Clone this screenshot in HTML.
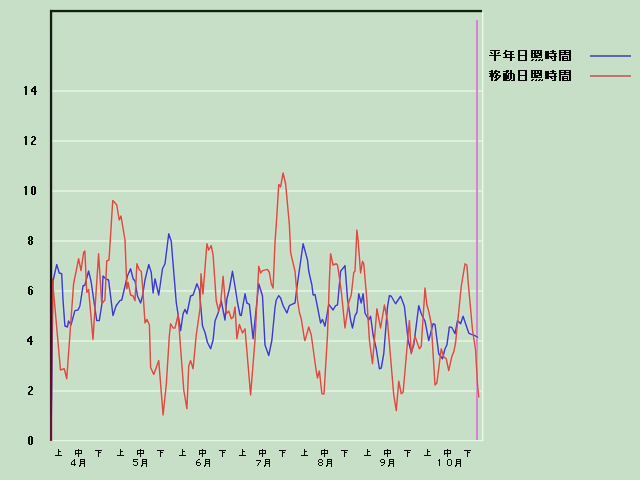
<!DOCTYPE html>
<html><head><meta charset="utf-8"><style>
html,body{margin:0;padding:0;width:640px;height:480px;overflow:hidden;background:#c8dfc7;font-family:"Liberation Sans",sans-serif}
</style></head><body>
<svg width="640" height="480" viewBox="0 0 640 480" style="position:absolute;left:0;top:0">
<rect x="0" y="0" width="640" height="480" fill="#c8dfc7"/>
<g fill="#e2f3e0">
<rect x="52" y="90.15" width="430" height="1.7"/>
<rect x="52" y="140.15" width="430" height="1.7"/>
<rect x="52" y="190.15" width="430" height="1.7"/>
<rect x="52" y="240.15" width="430" height="1.7"/>
<rect x="52" y="290.15" width="430" height="1.7"/>
<rect x="52" y="340.15" width="430" height="1.7"/>
<rect x="52" y="390.15" width="430" height="1.7"/>
</g>
<rect x="52" y="440" width="431" height="1.2" fill="#e6f6e4"/>
<rect x="482" y="12" width="1.4" height="429" fill="#eaf8e8"/>
<rect x="476" y="20" width="2" height="420" fill="#d882d6"/>
<polyline points="51.00,440.00 53.00,281.00 56.75,264.40 59.25,273.00 61.70,273.75 63.00,300.00 64.90,326.00 67.40,327.00 68.60,321.00 71.00,325.00 74.90,310.60 78.00,310.00 79.90,306.00 83.00,286.00 84.90,285.00 88.60,271.00 91.00,281.00 96.75,320.60 99.25,320.60 101.75,305.00 103.00,276.00 106.00,279.00 108.60,280.00 113.00,315.60 116.00,306.00 119.90,300.60 121.75,300.00 127.40,276.00 130.60,268.75 133.10,278.75 135.00,281.00 137.50,296.00 140.60,303.00 142.50,296.00 145.00,280.00 148.75,264.40 151.25,272.50 153.10,293.00 155.00,278.75 158.75,295.00 162.50,268.75 165.00,263.75 168.75,233.75 171.25,241.25 176.25,302.50 180.60,330.60 183.10,313.75 185.00,309.40 186.90,313.75 190.60,296.00 193.10,295.00 196.90,283.75 199.40,290.00 202.50,326.00 205.00,332.50 207.50,342.50 210.60,348.75 213.10,340.00 215.00,321.00 218.10,313.00 221.25,301.00 225.00,320.00 226.90,298.75 229.40,288.75 232.50,271.25 235.60,290.00 237.50,302.50 240.00,315.00 241.25,315.60 245.00,293.75 246.90,303.00 249.40,304.40 253.10,338.75 258.75,283.75 262.50,296.00 265.00,345.00 268.75,355.60 271.90,340.00 275.00,307.50 276.25,300.00 278.75,295.60 280.60,298.00 283.10,305.60 286.90,313.00 289.40,305.60 291.90,304.40 295.00,303.00 296.90,287.50 303.10,243.75 307.50,260.00 308.75,271.25 311.90,285.00 313.10,295.00 315.00,294.40 320.60,323.00 322.50,319.40 325.00,326.25 328.75,304.40 333.10,310.00 335.60,305.60 337.50,305.00 340.60,271.25 345.00,265.60 347.50,298.75 350.60,320.00 352.50,328.00 355.00,315.60 356.90,312.50 358.75,293.75 361.25,303.00 363.10,293.75 365.00,313.00 368.75,320.00 370.60,316.25 373.10,335.00 376.25,348.75 379.40,368.75 381.25,368.00 383.75,353.75 387.50,306.90 389.40,295.60 391.25,296.25 395.60,303.75 400.60,296.25 404.40,306.25 408.10,340.00 411.25,352.50 413.75,345.00 418.75,305.60 421.25,313.75 425.00,321.25 428.75,340.60 433.10,323.75 435.00,324.40 438.75,353.75 442.50,358.75 445.00,348.75 446.90,345.00 449.40,326.90 451.90,327.50 455.00,333.75 457.50,320.60 460.60,323.75 463.10,316.25 468.75,333.10 471.25,334.40 475.00,335.60 478.10,337.50" fill="none" stroke="#e4e4f4" stroke-opacity="0.3" stroke-width="3.6" stroke-linejoin="round"/>
<polyline points="51.00,440.00 52.40,279.00 60.50,370.00 64.25,368.75 66.75,378.75 73.60,283.75 78.60,258.75 81.00,270.60 83.60,252.50 84.90,251.00 86.75,292.50 88.60,289.40 93.00,339.40 98.60,253.75 101.75,303.75 104.90,300.00 106.75,261.00 109.00,260.00 112.75,200.60 114.25,202.00 116.75,205.00 119.25,220.00 121.00,216.00 125.00,240.00 126.90,288.75 128.10,282.50 130.60,295.00 133.10,296.00 135.00,300.60 136.90,263.75 139.40,270.00 141.25,271.25 142.50,285.00 145.00,323.00 146.90,319.40 149.40,325.00 150.60,367.50 153.75,374.40 158.75,360.60 163.10,415.00 166.25,385.00 169.40,335.00 170.60,323.75 173.10,328.00 175.00,328.00 178.10,315.00 180.00,340.00 183.75,390.00 186.90,408.75 188.75,366.00 190.60,360.60 193.10,368.75 196.25,335.00 200.00,308.75 201.00,273.75 203.00,294.00 206.90,243.75 208.75,250.00 211.25,245.60 213.10,255.00 216.25,301.00 218.75,311.00 220.60,303.75 223.10,276.25 226.25,313.75 228.75,311.00 231.25,318.75 233.10,317.50 235.00,306.90 236.90,338.75 239.40,324.40 242.50,333.00 245.00,328.75 250.60,395.00 255.00,340.00 258.75,266.25 260.60,273.00 262.50,270.60 267.50,269.40 269.40,272.50 271.25,283.75 273.10,288.00 275.00,242.50 276.25,225.00 278.75,184.40 280.60,186.90 283.10,173.00 285.60,183.75 289.40,225.00 290.60,252.50 295.00,271.25 297.50,300.00 299.40,312.50 301.25,318.75 304.40,338.75 305.00,340.60 308.75,327.00 311.25,335.00 316.25,371.25 317.50,378.00 319.40,371.00 321.90,393.75 324.00,394.00 327.50,335.00 329.40,280.00 330.60,253.75 333.10,265.00 336.25,263.75 337.50,265.00 341.25,291.00 345.00,328.00 348.75,302.50 351.25,295.00 353.75,272.50 355.00,271.25 356.90,230.00 358.10,240.00 360.60,273.00 362.50,261.25 363.75,263.75 366.90,300.00 369.40,340.00 372.50,363.75 376.90,308.75 380.60,328.00 384.40,305.00 387.50,321.25 393.75,395.00 396.25,410.60 398.75,381.25 401.25,393.75 403.10,392.50 408.10,335.00 409.40,320.60 411.25,353.75 415.00,336.25 419.40,348.75 421.25,346.25 425.00,288.00 426.90,305.00 428.75,311.25 431.25,323.75 435.00,385.00 436.90,383.00 441.25,348.75 443.75,356.90 446.25,358.75 448.75,370.60 451.90,356.25 453.75,351.90 455.60,342.50 459.40,305.00 461.25,286.25 465.00,263.75 466.90,265.00 468.10,281.25 472.50,330.00 475.60,350.00 477.50,385.00 478.75,397.50" fill="none" stroke="#f4dcd4" stroke-opacity="0.3" stroke-width="3.6" stroke-linejoin="round"/>
<polyline points="51.00,440.00 53.00,281.00 56.75,264.40 59.25,273.00 61.70,273.75 63.00,300.00 64.90,326.00 67.40,327.00 68.60,321.00 71.00,325.00 74.90,310.60 78.00,310.00 79.90,306.00 83.00,286.00 84.90,285.00 88.60,271.00 91.00,281.00 96.75,320.60 99.25,320.60 101.75,305.00 103.00,276.00 106.00,279.00 108.60,280.00 113.00,315.60 116.00,306.00 119.90,300.60 121.75,300.00 127.40,276.00 130.60,268.75 133.10,278.75 135.00,281.00 137.50,296.00 140.60,303.00 142.50,296.00 145.00,280.00 148.75,264.40 151.25,272.50 153.10,293.00 155.00,278.75 158.75,295.00 162.50,268.75 165.00,263.75 168.75,233.75 171.25,241.25 176.25,302.50 180.60,330.60 183.10,313.75 185.00,309.40 186.90,313.75 190.60,296.00 193.10,295.00 196.90,283.75 199.40,290.00 202.50,326.00 205.00,332.50 207.50,342.50 210.60,348.75 213.10,340.00 215.00,321.00 218.10,313.00 221.25,301.00 225.00,320.00 226.90,298.75 229.40,288.75 232.50,271.25 235.60,290.00 237.50,302.50 240.00,315.00 241.25,315.60 245.00,293.75 246.90,303.00 249.40,304.40 253.10,338.75 258.75,283.75 262.50,296.00 265.00,345.00 268.75,355.60 271.90,340.00 275.00,307.50 276.25,300.00 278.75,295.60 280.60,298.00 283.10,305.60 286.90,313.00 289.40,305.60 291.90,304.40 295.00,303.00 296.90,287.50 303.10,243.75 307.50,260.00 308.75,271.25 311.90,285.00 313.10,295.00 315.00,294.40 320.60,323.00 322.50,319.40 325.00,326.25 328.75,304.40 333.10,310.00 335.60,305.60 337.50,305.00 340.60,271.25 345.00,265.60 347.50,298.75 350.60,320.00 352.50,328.00 355.00,315.60 356.90,312.50 358.75,293.75 361.25,303.00 363.10,293.75 365.00,313.00 368.75,320.00 370.60,316.25 373.10,335.00 376.25,348.75 379.40,368.75 381.25,368.00 383.75,353.75 387.50,306.90 389.40,295.60 391.25,296.25 395.60,303.75 400.60,296.25 404.40,306.25 408.10,340.00 411.25,352.50 413.75,345.00 418.75,305.60 421.25,313.75 425.00,321.25 428.75,340.60 433.10,323.75 435.00,324.40 438.75,353.75 442.50,358.75 445.00,348.75 446.90,345.00 449.40,326.90 451.90,327.50 455.00,333.75 457.50,320.60 460.60,323.75 463.10,316.25 468.75,333.10 471.25,334.40 475.00,335.60 478.10,337.50" fill="none" stroke="#3c3ccc" stroke-width="1.45" stroke-linejoin="round"/>
<polyline points="51.00,440.00 52.40,279.00 60.50,370.00 64.25,368.75 66.75,378.75 73.60,283.75 78.60,258.75 81.00,270.60 83.60,252.50 84.90,251.00 86.75,292.50 88.60,289.40 93.00,339.40 98.60,253.75 101.75,303.75 104.90,300.00 106.75,261.00 109.00,260.00 112.75,200.60 114.25,202.00 116.75,205.00 119.25,220.00 121.00,216.00 125.00,240.00 126.90,288.75 128.10,282.50 130.60,295.00 133.10,296.00 135.00,300.60 136.90,263.75 139.40,270.00 141.25,271.25 142.50,285.00 145.00,323.00 146.90,319.40 149.40,325.00 150.60,367.50 153.75,374.40 158.75,360.60 163.10,415.00 166.25,385.00 169.40,335.00 170.60,323.75 173.10,328.00 175.00,328.00 178.10,315.00 180.00,340.00 183.75,390.00 186.90,408.75 188.75,366.00 190.60,360.60 193.10,368.75 196.25,335.00 200.00,308.75 201.00,273.75 203.00,294.00 206.90,243.75 208.75,250.00 211.25,245.60 213.10,255.00 216.25,301.00 218.75,311.00 220.60,303.75 223.10,276.25 226.25,313.75 228.75,311.00 231.25,318.75 233.10,317.50 235.00,306.90 236.90,338.75 239.40,324.40 242.50,333.00 245.00,328.75 250.60,395.00 255.00,340.00 258.75,266.25 260.60,273.00 262.50,270.60 267.50,269.40 269.40,272.50 271.25,283.75 273.10,288.00 275.00,242.50 276.25,225.00 278.75,184.40 280.60,186.90 283.10,173.00 285.60,183.75 289.40,225.00 290.60,252.50 295.00,271.25 297.50,300.00 299.40,312.50 301.25,318.75 304.40,338.75 305.00,340.60 308.75,327.00 311.25,335.00 316.25,371.25 317.50,378.00 319.40,371.00 321.90,393.75 324.00,394.00 327.50,335.00 329.40,280.00 330.60,253.75 333.10,265.00 336.25,263.75 337.50,265.00 341.25,291.00 345.00,328.00 348.75,302.50 351.25,295.00 353.75,272.50 355.00,271.25 356.90,230.00 358.10,240.00 360.60,273.00 362.50,261.25 363.75,263.75 366.90,300.00 369.40,340.00 372.50,363.75 376.90,308.75 380.60,328.00 384.40,305.00 387.50,321.25 393.75,395.00 396.25,410.60 398.75,381.25 401.25,393.75 403.10,392.50 408.10,335.00 409.40,320.60 411.25,353.75 415.00,336.25 419.40,348.75 421.25,346.25 425.00,288.00 426.90,305.00 428.75,311.25 431.25,323.75 435.00,385.00 436.90,383.00 441.25,348.75 443.75,356.90 446.25,358.75 448.75,370.60 451.90,356.25 453.75,351.90 455.60,342.50 459.40,305.00 461.25,286.25 465.00,263.75 466.90,265.00 468.10,281.25 472.50,330.00 475.60,350.00 477.50,385.00 478.75,397.50" fill="none" stroke="#d94c42" stroke-width="1.45" stroke-linejoin="round"/>
<rect x="50" y="9.9" width="432" height="2.3" fill="#0f200f"/>
<defs><linearGradient id="ax" x1="0" y1="0" x2="0" y2="1"><stop offset="0" stop-color="#0f200f"/><stop offset="0.62" stop-color="#1c1414"/><stop offset="0.8" stop-color="#4a1424"/><stop offset="1" stop-color="#5c1a34"/></linearGradient></defs>
<rect x="49.9" y="9.9" width="2.3" height="431" fill="url(#ax)"/>
<rect x="590" y="55" width="41" height="2" fill="#5a6aac"/>
<rect x="590" y="75" width="41" height="2" fill="#bc786e"/>
<path d="M490 50h10v1h-10zM494 51h2v1h-2zM490 52h2v1h-2zM494 52h2v1h-2zM498 52h2v1h-2zM491 53h2v1h-2zM494 53h2v1h-2zM497 53h2v1h-2zM494 54h2v1h-2zM489 55h12v1h-12zM494 56h2v1h-2zM494 57h2v1h-2zM494 58h2v1h-2zM494 59h2v1h-2zM494 60h2v1h-2zM505 50h2v1h-2zM505 51h9v1h-9zM504 52h2v1h-2zM510 52h2v1h-2zM503 53h3v1h-3zM510 53h2v1h-2zM505 54h9v1h-9zM505 55h2v1h-2zM510 55h2v1h-2zM505 56h2v1h-2zM510 56h2v1h-2zM503 57h12v1h-12zM510 58h2v1h-2zM510 59h2v1h-2zM510 60h2v1h-2zM518 50h9v1h-9zM518 51h2v1h-2zM525 51h2v1h-2zM518 52h2v1h-2zM525 52h2v1h-2zM518 53h2v1h-2zM525 53h2v1h-2zM518 54h2v1h-2zM525 54h2v1h-2zM518 55h9v1h-9zM518 56h2v1h-2zM525 56h2v1h-2zM518 57h2v1h-2zM525 57h2v1h-2zM518 58h2v1h-2zM525 58h2v1h-2zM518 59h2v1h-2zM525 59h2v1h-2zM518 60h9v1h-9zM531 50h11v1h-11zM531 51h2v1h-2zM534 51h2v1h-2zM537 51h2v1h-2zM540 51h2v1h-2zM531 52h2v1h-2zM534 52h2v1h-2zM537 52h2v1h-2zM540 52h2v1h-2zM531 53h11v1h-11zM531 54h2v1h-2zM534 54h2v1h-2zM539 54h3v1h-3zM531 55h2v1h-2zM534 55h8v1h-8zM531 56h2v1h-2zM534 56h4v1h-4zM541 56h1v1h-1zM531 57h11v1h-11zM532 59h2v1h-2zM536 59h1v1h-1zM539 59h2v1h-2zM542 59h1v1h-1zM531 60h2v1h-2zM535 60h2v1h-2zM538 60h2v1h-2zM541 60h2v1h-2zM552 50h2v1h-2zM545 51h4v1h-4zM550 51h6v1h-6zM545 52h4v1h-4zM552 52h2v1h-2zM545 53h12v1h-12zM545 54h4v1h-4zM554 54h2v1h-2zM545 55h4v1h-4zM554 55h2v1h-2zM545 56h12v1h-12zM545 57h4v1h-4zM550 57h2v1h-2zM554 57h2v1h-2zM545 58h4v1h-4zM551 58h2v1h-2zM554 58h2v1h-2zM554 59h2v1h-2zM552 60h4v1h-4zM559 50h12v1h-12zM559 51h2v1h-2zM564 51h2v1h-2zM569 51h2v1h-2zM559 52h12v1h-12zM559 53h2v1h-2zM564 53h2v1h-2zM569 53h2v1h-2zM559 54h12v1h-12zM559 55h2v1h-2zM569 55h2v1h-2zM559 56h2v1h-2zM562 56h6v1h-6zM569 56h2v1h-2zM559 57h2v1h-2zM562 57h2v1h-2zM567 57h1v1h-1zM569 57h2v1h-2zM559 58h2v1h-2zM562 58h6v1h-6zM569 58h2v1h-2zM559 59h2v1h-2zM562 59h2v1h-2zM567 59h1v1h-1zM569 59h2v1h-2zM559 60h2v1h-2zM562 60h9v1h-9zM491 70h2v1h-2zM495 70h2v1h-2zM489 71h4v1h-4zM494 71h6v1h-6zM491 72h2v1h-2zM494 72h2v1h-2zM498 72h2v1h-2zM489 73h9v1h-9zM490 74h4v1h-4zM496 74h2v1h-2zM490 75h4v1h-4zM495 75h6v1h-6zM489 76h5v1h-5zM495 76h2v1h-2zM499 76h2v1h-2zM491 77h2v1h-2zM494 77h3v1h-3zM498 77h2v1h-2zM491 78h2v1h-2zM496 78h3v1h-3zM491 79h2v1h-2zM495 79h3v1h-3zM491 80h2v1h-2zM494 80h3v1h-3zM506 70h3v1h-3zM510 70h2v1h-2zM503 71h6v1h-6zM510 71h2v1h-2zM506 72h2v1h-2zM510 72h2v1h-2zM503 73h4v1h-4zM508 73h6v1h-6zM503 74h4v1h-4zM508 74h1v1h-1zM510 74h2v1h-2zM513 74h2v1h-2zM503 75h6v1h-6zM510 75h2v1h-2zM513 75h2v1h-2zM503 76h6v1h-6zM510 76h2v1h-2zM513 76h2v1h-2zM503 77h6v1h-6zM510 77h2v1h-2zM513 77h2v1h-2zM503 78h6v1h-6zM510 78h2v1h-2zM513 78h2v1h-2zM503 79h4v1h-4zM509 79h2v1h-2zM513 79h2v1h-2zM503 80h7v1h-7zM511 80h4v1h-4zM518 70h9v1h-9zM518 71h2v1h-2zM525 71h2v1h-2zM518 72h2v1h-2zM525 72h2v1h-2zM518 73h2v1h-2zM525 73h2v1h-2zM518 74h2v1h-2zM525 74h2v1h-2zM518 75h9v1h-9zM518 76h2v1h-2zM525 76h2v1h-2zM518 77h2v1h-2zM525 77h2v1h-2zM518 78h2v1h-2zM525 78h2v1h-2zM518 79h2v1h-2zM525 79h2v1h-2zM518 80h9v1h-9zM531 70h11v1h-11zM531 71h2v1h-2zM534 71h2v1h-2zM537 71h2v1h-2zM540 71h2v1h-2zM531 72h2v1h-2zM534 72h2v1h-2zM537 72h2v1h-2zM540 72h2v1h-2zM531 73h11v1h-11zM531 74h2v1h-2zM534 74h2v1h-2zM539 74h3v1h-3zM531 75h2v1h-2zM534 75h8v1h-8zM531 76h2v1h-2zM534 76h4v1h-4zM541 76h1v1h-1zM531 77h11v1h-11zM532 79h2v1h-2zM536 79h1v1h-1zM539 79h2v1h-2zM542 79h1v1h-1zM531 80h2v1h-2zM535 80h2v1h-2zM538 80h2v1h-2zM541 80h2v1h-2zM552 70h2v1h-2zM545 71h4v1h-4zM550 71h6v1h-6zM545 72h4v1h-4zM552 72h2v1h-2zM545 73h12v1h-12zM545 74h4v1h-4zM554 74h2v1h-2zM545 75h4v1h-4zM554 75h2v1h-2zM545 76h12v1h-12zM545 77h4v1h-4zM550 77h2v1h-2zM554 77h2v1h-2zM545 78h4v1h-4zM551 78h2v1h-2zM554 78h2v1h-2zM554 79h2v1h-2zM552 80h4v1h-4zM559 70h12v1h-12zM559 71h2v1h-2zM564 71h2v1h-2zM569 71h2v1h-2zM559 72h12v1h-12zM559 73h2v1h-2zM564 73h2v1h-2zM569 73h2v1h-2zM559 74h12v1h-12zM559 75h2v1h-2zM569 75h2v1h-2zM559 76h2v1h-2zM562 76h6v1h-6zM569 76h2v1h-2zM559 77h2v1h-2zM562 77h2v1h-2zM567 77h1v1h-1zM569 77h2v1h-2zM559 78h2v1h-2zM562 78h6v1h-6zM569 78h2v1h-2zM559 79h2v1h-2zM562 79h2v1h-2zM567 79h1v1h-1zM569 79h2v1h-2zM559 80h2v1h-2zM562 80h9v1h-9zM25 86h2v1h-2zM24 87h3v1h-3zM25 88h2v1h-2zM25 89h2v1h-2zM25 90h2v1h-2zM25 91h2v1h-2zM25 92h2v1h-2zM25 93h2v1h-2zM25 94h2v1h-2zM34 86h2v1h-2zM33 87h3v1h-3zM32 88h4v1h-4zM31 89h2v1h-2zM34 89h2v1h-2zM31 90h2v1h-2zM34 90h2v1h-2zM31 91h6v1h-6zM34 92h2v1h-2zM34 93h2v1h-2zM34 94h2v1h-2zM25 136h2v1h-2zM24 137h3v1h-3zM25 138h2v1h-2zM25 139h2v1h-2zM25 140h2v1h-2zM25 141h2v1h-2zM25 142h2v1h-2zM25 143h2v1h-2zM25 144h2v1h-2zM32 136h3v1h-3zM31 137h2v1h-2zM34 137h2v1h-2zM34 138h2v1h-2zM34 139h2v1h-2zM33 140h2v1h-2zM32 141h2v1h-2zM31 142h2v1h-2zM31 143h2v1h-2zM31 144h5v1h-5zM25 186h2v1h-2zM24 187h3v1h-3zM25 188h2v1h-2zM25 189h2v1h-2zM25 190h2v1h-2zM25 191h2v1h-2zM25 192h2v1h-2zM25 193h2v1h-2zM25 194h2v1h-2zM32 186h3v1h-3zM31 187h2v1h-2zM34 187h2v1h-2zM31 188h2v1h-2zM34 188h2v1h-2zM31 189h2v1h-2zM34 189h2v1h-2zM31 190h2v1h-2zM34 190h2v1h-2zM31 191h2v1h-2zM34 191h2v1h-2zM31 192h2v1h-2zM34 192h2v1h-2zM31 193h2v1h-2zM34 193h2v1h-2zM32 194h3v1h-3zM29 236h3v1h-3zM28 237h2v1h-2zM31 237h2v1h-2zM28 238h2v1h-2zM31 238h2v1h-2zM28 239h2v1h-2zM31 239h2v1h-2zM29 240h3v1h-3zM28 241h2v1h-2zM31 241h2v1h-2zM28 242h2v1h-2zM31 242h2v1h-2zM28 243h2v1h-2zM31 243h2v1h-2zM29 244h3v1h-3zM29 286h3v1h-3zM28 287h2v1h-2zM32 287h1v1h-1zM28 288h2v1h-2zM28 289h4v1h-4zM28 290h2v1h-2zM31 290h2v1h-2zM28 291h2v1h-2zM31 291h2v1h-2zM28 292h2v1h-2zM31 292h2v1h-2zM28 293h2v1h-2zM31 293h2v1h-2zM29 294h3v1h-3zM30 336h2v1h-2zM29 337h3v1h-3zM28 338h4v1h-4zM27 339h2v1h-2zM30 339h2v1h-2zM27 340h2v1h-2zM30 340h2v1h-2zM27 341h6v1h-6zM30 342h2v1h-2zM30 343h2v1h-2zM30 344h2v1h-2zM29 386h3v1h-3zM28 387h2v1h-2zM31 387h2v1h-2zM31 388h2v1h-2zM31 389h2v1h-2zM30 390h2v1h-2zM29 391h2v1h-2zM28 392h2v1h-2zM28 393h2v1h-2zM28 394h5v1h-5zM29 436h3v1h-3zM28 437h2v1h-2zM31 437h2v1h-2zM28 438h2v1h-2zM31 438h2v1h-2zM28 439h2v1h-2zM31 439h2v1h-2zM28 440h2v1h-2zM31 440h2v1h-2zM28 441h2v1h-2zM31 441h2v1h-2zM28 442h2v1h-2zM31 442h2v1h-2zM28 443h2v1h-2zM31 443h2v1h-2zM29 444h3v1h-3zM58 449h1v1h-1zM58 450h1v1h-1zM58 451h3v1h-3zM58 452h1v1h-1zM58 453h1v1h-1zM58 454h1v1h-1zM55 455h7v1h-7zM120 449h1v1h-1zM120 450h1v1h-1zM120 451h3v1h-3zM120 452h1v1h-1zM120 453h1v1h-1zM120 454h1v1h-1zM117 455h7v1h-7zM182 449h1v1h-1zM182 450h1v1h-1zM182 451h3v1h-3zM182 452h1v1h-1zM182 453h1v1h-1zM182 454h1v1h-1zM179 455h7v1h-7zM242 449h1v1h-1zM242 450h1v1h-1zM242 451h3v1h-3zM242 452h1v1h-1zM242 453h1v1h-1zM242 454h1v1h-1zM239 455h7v1h-7zM304 449h1v1h-1zM304 450h1v1h-1zM304 451h3v1h-3zM304 452h1v1h-1zM304 453h1v1h-1zM304 454h1v1h-1zM301 455h7v1h-7zM367 449h1v1h-1zM367 450h1v1h-1zM367 451h3v1h-3zM367 452h1v1h-1zM367 453h1v1h-1zM367 454h1v1h-1zM364 455h7v1h-7zM427 449h1v1h-1zM427 450h1v1h-1zM427 451h3v1h-3zM427 452h1v1h-1zM427 453h1v1h-1zM427 454h1v1h-1zM424 455h7v1h-7zM78 449h1v1h-1zM75 450h7v1h-7zM75 451h1v1h-1zM78 451h1v1h-1zM81 451h1v1h-1zM75 452h1v1h-1zM78 452h1v1h-1zM81 452h1v1h-1zM75 453h7v1h-7zM75 454h1v1h-1zM78 454h1v1h-1zM78 455h1v1h-1zM78 456h1v1h-1zM140 449h1v1h-1zM137 450h7v1h-7zM137 451h1v1h-1zM140 451h1v1h-1zM143 451h1v1h-1zM137 452h1v1h-1zM140 452h1v1h-1zM143 452h1v1h-1zM137 453h7v1h-7zM137 454h1v1h-1zM140 454h1v1h-1zM140 455h1v1h-1zM140 456h1v1h-1zM202 449h1v1h-1zM199 450h7v1h-7zM199 451h1v1h-1zM202 451h1v1h-1zM205 451h1v1h-1zM199 452h1v1h-1zM202 452h1v1h-1zM205 452h1v1h-1zM199 453h7v1h-7zM199 454h1v1h-1zM202 454h1v1h-1zM202 455h1v1h-1zM202 456h1v1h-1zM262 449h1v1h-1zM259 450h7v1h-7zM259 451h1v1h-1zM262 451h1v1h-1zM265 451h1v1h-1zM259 452h1v1h-1zM262 452h1v1h-1zM265 452h1v1h-1zM259 453h7v1h-7zM259 454h1v1h-1zM262 454h1v1h-1zM262 455h1v1h-1zM262 456h1v1h-1zM324 449h1v1h-1zM321 450h7v1h-7zM321 451h1v1h-1zM324 451h1v1h-1zM327 451h1v1h-1zM321 452h1v1h-1zM324 452h1v1h-1zM327 452h1v1h-1zM321 453h7v1h-7zM321 454h1v1h-1zM324 454h1v1h-1zM324 455h1v1h-1zM324 456h1v1h-1zM387 449h1v1h-1zM384 450h7v1h-7zM384 451h1v1h-1zM387 451h1v1h-1zM390 451h1v1h-1zM384 452h1v1h-1zM387 452h1v1h-1zM390 452h1v1h-1zM384 453h7v1h-7zM384 454h1v1h-1zM387 454h1v1h-1zM387 455h1v1h-1zM387 456h1v1h-1zM447 449h1v1h-1zM444 450h7v1h-7zM444 451h1v1h-1zM447 451h1v1h-1zM450 451h1v1h-1zM444 452h1v1h-1zM447 452h1v1h-1zM450 452h1v1h-1zM444 453h7v1h-7zM444 454h1v1h-1zM447 454h1v1h-1zM447 455h1v1h-1zM447 456h1v1h-1zM95 450h7v1h-7zM98 451h1v1h-1zM98 452h3v1h-3zM98 453h1v1h-1zM98 454h1v1h-1zM98 455h1v1h-1zM98 456h1v1h-1zM157 450h7v1h-7zM160 451h1v1h-1zM160 452h3v1h-3zM160 453h1v1h-1zM160 454h1v1h-1zM160 455h1v1h-1zM160 456h1v1h-1zM219 450h7v1h-7zM222 451h1v1h-1zM222 452h3v1h-3zM222 453h1v1h-1zM222 454h1v1h-1zM222 455h1v1h-1zM222 456h1v1h-1zM279 450h7v1h-7zM282 451h1v1h-1zM282 452h3v1h-3zM282 453h1v1h-1zM282 454h1v1h-1zM282 455h1v1h-1zM282 456h1v1h-1zM341 450h7v1h-7zM344 451h1v1h-1zM344 452h3v1h-3zM344 453h1v1h-1zM344 454h1v1h-1zM344 455h1v1h-1zM344 456h1v1h-1zM404 450h7v1h-7zM407 451h1v1h-1zM407 452h3v1h-3zM407 453h1v1h-1zM407 454h1v1h-1zM407 455h1v1h-1zM407 456h1v1h-1zM464 450h7v1h-7zM467 451h1v1h-1zM467 452h3v1h-3zM467 453h1v1h-1zM467 454h1v1h-1zM467 455h1v1h-1zM467 456h1v1h-1zM74 459h1v1h-1zM73 460h2v1h-2zM72 461h1v1h-1zM74 461h1v1h-1zM71 462h1v1h-1zM74 462h1v1h-1zM71 463h1v1h-1zM74 463h1v1h-1zM71 464h5v1h-5zM74 465h1v1h-1zM80 459h5v1h-5zM80 460h1v1h-1zM84 460h1v1h-1zM80 461h5v1h-5zM80 462h1v1h-1zM84 462h1v1h-1zM80 463h5v1h-5zM80 464h1v1h-1zM84 464h1v1h-1zM79 465h2v1h-2zM84 465h1v1h-1zM79 466h1v1h-1zM84 466h1v1h-1zM133 459h5v1h-5zM133 460h1v1h-1zM133 461h4v1h-4zM137 462h1v1h-1zM137 463h1v1h-1zM133 464h1v1h-1zM137 464h1v1h-1zM134 465h3v1h-3zM142 459h5v1h-5zM142 460h1v1h-1zM146 460h1v1h-1zM142 461h5v1h-5zM142 462h1v1h-1zM146 462h1v1h-1zM142 463h5v1h-5zM142 464h1v1h-1zM146 464h1v1h-1zM141 465h2v1h-2zM146 465h1v1h-1zM141 466h1v1h-1zM146 466h1v1h-1zM198 459h2v1h-2zM197 460h1v1h-1zM196 461h1v1h-1zM196 462h4v1h-4zM196 463h1v1h-1zM200 463h1v1h-1zM196 464h1v1h-1zM200 464h1v1h-1zM197 465h3v1h-3zM205 459h5v1h-5zM205 460h1v1h-1zM209 460h1v1h-1zM205 461h5v1h-5zM205 462h1v1h-1zM209 462h1v1h-1zM205 463h5v1h-5zM205 464h1v1h-1zM209 464h1v1h-1zM204 465h2v1h-2zM209 465h1v1h-1zM204 466h1v1h-1zM209 466h1v1h-1zM256 460h5v1h-5zM260 461h1v1h-1zM259 462h1v1h-1zM258 463h1v1h-1zM258 464h1v1h-1zM257 465h1v1h-1zM265 459h5v1h-5zM265 460h1v1h-1zM269 460h1v1h-1zM265 461h5v1h-5zM265 462h1v1h-1zM269 462h1v1h-1zM265 463h5v1h-5zM265 464h1v1h-1zM269 464h1v1h-1zM264 465h2v1h-2zM269 465h1v1h-1zM264 466h1v1h-1zM269 466h1v1h-1zM319 459h3v1h-3zM318 460h1v1h-1zM322 460h1v1h-1zM318 461h1v1h-1zM322 461h1v1h-1zM319 462h3v1h-3zM318 463h1v1h-1zM322 463h1v1h-1zM318 464h1v1h-1zM322 464h1v1h-1zM319 465h3v1h-3zM327 459h5v1h-5zM327 460h1v1h-1zM331 460h1v1h-1zM327 461h5v1h-5zM327 462h1v1h-1zM331 462h1v1h-1zM327 463h5v1h-5zM327 464h1v1h-1zM331 464h1v1h-1zM326 465h2v1h-2zM331 465h1v1h-1zM326 466h1v1h-1zM331 466h1v1h-1zM381 459h3v1h-3zM380 460h1v1h-1zM384 460h1v1h-1zM380 461h1v1h-1zM384 461h1v1h-1zM381 462h4v1h-4zM384 463h1v1h-1zM383 464h1v1h-1zM381 465h2v1h-2zM389 459h5v1h-5zM389 460h1v1h-1zM393 460h1v1h-1zM389 461h5v1h-5zM389 462h1v1h-1zM393 462h1v1h-1zM389 463h5v1h-5zM389 464h1v1h-1zM393 464h1v1h-1zM388 465h2v1h-2zM393 465h1v1h-1zM388 466h1v1h-1zM393 466h1v1h-1zM439 459h1v1h-1zM438 460h2v1h-2zM439 461h1v1h-1zM439 462h1v1h-1zM439 463h1v1h-1zM439 464h1v1h-1zM439 465h1v1h-1zM448 459h3v1h-3zM447 460h1v1h-1zM451 460h1v1h-1zM447 461h1v1h-1zM451 461h1v1h-1zM447 462h1v1h-1zM451 462h1v1h-1zM447 463h1v1h-1zM451 463h1v1h-1zM447 464h1v1h-1zM451 464h1v1h-1zM448 465h3v1h-3zM456 459h5v1h-5zM456 460h1v1h-1zM460 460h1v1h-1zM456 461h5v1h-5zM456 462h1v1h-1zM460 462h1v1h-1zM456 463h5v1h-5zM456 464h1v1h-1zM460 464h1v1h-1zM455 465h2v1h-2zM460 465h1v1h-1zM455 466h1v1h-1zM460 466h1v1h-1z" fill="#080808"/>
</svg>
</body></html>
